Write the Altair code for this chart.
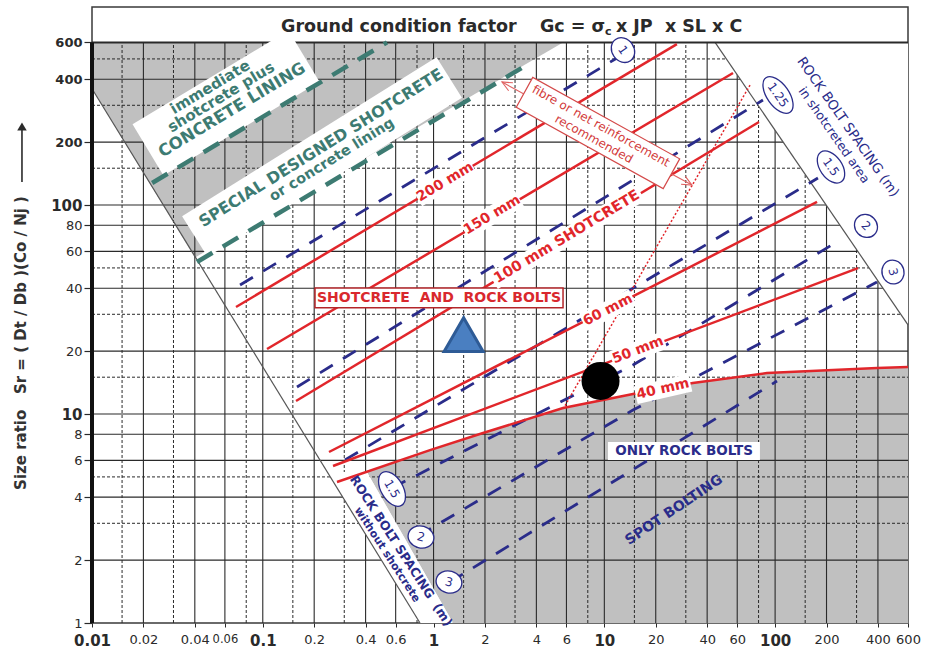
import altair as alt
import pandas as pd

# ---------------------------------------------------------------- styling
FONT = "DejaVu Sans"
INK = "#2a2a2a"
RED = "#e1262b"
NAVY = "#2a2c8a"
TEAL = "#3d7b72"
GRAY = "#c0c0c0"
SP = "\u00a0"   # non-collapsing space for wide gaps inside labels

# ---------------------------------------------------------------- scales
X_DOMAIN = [0.01, 600]
Y_DOMAIN = [1, 886]      # the strip above 600 carries the header row
Y_TOP = 600

XS = alt.Scale(type="log", domain=X_DOMAIN, nice=False)
YS = alt.Scale(type="log", domain=Y_DOMAIN, nice=False)

# ---------------------------------------------------------------- axes / grid
x_ticks = [0.01, 0.02, 0.04, 0.06, 0.1, 0.2, 0.4, 0.6, 1, 2, 4, 6, 10,
           20, 40, 60, 100, 200, 400, 600]
y_ticks = [1, 2, 4, 6, 8, 10, 20, 40, 60, 80, 100, 200, 400, 600]

grid_x_solid = [0.02, 0.04, 0.06, 0.1, 0.2, 0.4, 0.6, 1, 2, 4, 6, 10,
                20, 40, 60, 100, 200, 400]
grid_x_dashed = [0.015, 0.03, 0.08, 0.15, 0.3, 0.8, 1.5, 3, 8, 15, 30, 80, 150, 300]
grid_y_solid = [2, 4, 6, 8, 10, 20, 40, 60, 80, 100, 200, 400]
grid_y_dashed = [3, 5, 15, 30, 50, 150, 300, 500]

# ---------------------------------------------------------------- regions
# upper-left grey zone (special designed shotcrete / concrete lining)
gray_top_x = [0.01, 0.04, 5.73]
gray_top_lo = [360, 56, 600]

# lower-right grey zone (rock bolts only), topped by the 40 mm curve
gray_low_x = [0.407, 0.953, 1.30, 1.948, 5.73, 14.72, 33, 89.6, 395, 600]
gray_low_lo = [5.28, 1.56, 1, 1, 1, 1, 1, 1, 1, 1]
gray_low_hi = [5.28, 6.72, 7.30, 8.11, 10.68, 12.47, 14.07, 15.71, 16.6, 16.78]

# white strip carrying "ROCK BOLT SPACING without shotcrete"
band_y = [1, 5.28]
band_x_left = [0.833, 0.239]
band_x_right = [1.30, 0.407]

# boundary lines
left_edge_x = [0.01, 0.833]
left_edge_y = [360, 1]
right_edge_x = [44.5, 600]
right_edge_y = [600, 26.7]

# ---------------------------------------------------------------- support lines
concrete_lines = {
    "a": ([0.0225, 0.534], [127.4, 600]),
    "b": ([0.0412, 3.67], [53.4, 478]),
}
bolt_lines = {
    "1": ([0.0736, 11.86], [41.4, 505]),
    "1.25": ([0.1586, 84.9], [13.46, 318]),
    "1.5": ([0.303, 178.2], [6.03, 134.6]),
    "1.5-2": ([0.571, 14.72, 240], [4.43, 17.16, 68.0]),
    "2-3": ([0.811, 14.72, 395], [2.61, 10.45, 42.8]),
    "3": ([1.248, 102.6], [1.571, 14.38]),
}
shotcrete_lines = {
    "200": ([0.0697, 26.6], [32.5, 589]),
    "150": ([0.1059, 56.7], [20.46, 428]),
    "100": ([0.1565, 80.4], [11.54, 249.6]),
    "60": ([0.2442, 176], [6.58, 103.4]),
    "50": ([0.2578, 305.7], [5.64, 49.9]),
    "40": ([0.272, 0.953, 1.948, 5.73, 14.72, 33, 89.6, 395, 600],
           [4.73, 6.72, 8.11, 10.68, 12.47, 14.07, 15.71, 16.6, 16.78]),
}
fibre_limit_x = [71.3, 5.73]
fibre_limit_y = [375, 10.56]
fibre_arrow_x = [2.516, 32.6]
fibre_arrow_y = [387.8, 124.6]

# ---------------------------------------------------------------- labels
shotcrete_labels = ["200 mm", "150 mm", "100 mm SHOTCRETE", "60 mm", "50 mm", "40 mm"]
shotcrete_label_x = [1.167, 2.198, 6.04, 10.5, 15.74, 22.06]
shotcrete_label_y = [128.8, 89.6, 70.3, 31.45, 20.2, 13.17]
shotcrete_label_angle = [-31, -31, -31, -27, -21, -13]
shotcrete_label_w = [64, 64, 172, 56, 56, 56]

spacing_labels = ["1", "1.25", "1.5", "2", "3", "1.5", "2", "3"]
spacing_x = [12.86, 104, 212.4, 340.5, 490, 0.571, 0.844, 1.231]
spacing_y = [551, 336, 152, 79.4, 47.8, 4.38, 2.58, 1.571]
spacing_angle = [55, 55, 55, 45, 75, 60, 15, 15]
spacing_w = [26, 42, 36, 24, 24, 38, 26, 26]

# observed cases
case_triangle = (1.5, 24)
case_circle = (9.5, 14.4)

# ---------------------------------------------------------------- axes
BOLD_X = "indexof([0.01,0.1,1,10,100], datum.value) >= 0"
X_AXIS = alt.Axis(
    values=x_ticks, format="~g", domain=False, grid=False, tickSize=4, tickColor=INK,
    tickWidth=1, labelFont=FONT, labelColor=INK, labelPadding=6, labelOverlap=False,
    labelFlush=False,
    labelFontSize=alt.ExprRef(expr=f"{BOLD_X} ? 15 : (datum.value == 0.06 ? 11.5 : 13)"),
    labelFontWeight=alt.ExprRef(expr=f"{BOLD_X} ? 'bold' : 'normal'"),
    title=None)
Y_AXIS = alt.Axis(
    values=y_ticks, format="~g", domain=False, grid=False, tickSize=8, tickColor=INK,
    tickWidth=1.2, labelFont=FONT, labelColor=INK, labelPadding=2, labelOverlap=False,
    labelFlush=False,
    labelFontSize=alt.ExprRef(expr="datum.value == 10 || datum.value == 100 ? 15 : 13"),
    labelFontWeight=alt.ExprRef(
        expr="datum.value >= 200 || datum.value == 10 || datum.value == 100 ? 'bold' : 'normal'"),
    title=f"Size ratio{SP * 3}Sr = ( Dt / Db )(Co / Nj )", titleFont=FONT, titleFontSize=15,
    titleFontWeight="bold", titleColor="#333333", titleAngle=270, titleX=-72, titleY=335.5,
    titleAlign="center", titleBaseline="middle")


# ---------------------------------------------------------------- helpers
def xq(f="x"):
    return alt.X(f"{f}:Q", scale=XS, axis=X_AXIS)


def yq(f="y"):
    return alt.Y(f"{f}:Q", scale=YS, axis=Y_AXIS)


def one(x, y, **extra):
    d = {"x": [x], "y": [y]}
    d.update({k: [v] for k, v in extra.items()})
    return pd.DataFrame(d)


def line_layer(groups, **mark):
    rows = []
    for name, (xs, ys) in groups.items():
        for i, (a, b) in enumerate(zip(xs, ys)):
            rows.append({"id": name, "i": i, "x": a, "y": b})
    return alt.Chart(pd.DataFrame(rows)).mark_line(**mark).encode(
        x=xq(), y=yq(), detail="id:N", order="i:Q")


def vrules(xs, **mark):
    df = pd.DataFrame({"x": xs, "y": 1, "y2": Y_TOP})
    return alt.Chart(df).mark_rule(**mark).encode(x=xq(), y=yq(), y2="y2:Q")


def hrules(ys, **mark):
    df = pd.DataFrame({"y": ys, "x": X_DOMAIN[0], "x2": X_DOMAIN[1]})
    return alt.Chart(df).mark_rule(**mark).encode(y=yq(), x=xq(), x2="x2:Q")


def rect_path(w, h):
    r = h / w
    return f"M-1,{-r:.4f}L1,{-r:.4f}L1,{r:.4f}L-1,{r:.4f}Z", w * w


def ellipse_path(w, h):
    r = h / w
    return f"M-1,0A1,{r:.4f} 0 1,1 1,0A1,{r:.4f} 0 1,1 -1,0Z", w * w


def shape_layer(x, y, path_size, angle=0, fill="white", stroke=None, sw=0):
    path, size = path_size
    m = dict(shape=path, size=size, angle=angle % 360, filled=True,
             fill=fill, opacity=1, strokeWidth=sw)
    if stroke:
        m["stroke"] = stroke
    return alt.Chart(one(x, y)).mark_point(**m).encode(x=xq(), y=yq())


def box_layer(x0, x1, y0, y1, **mark):
    df = pd.DataFrame({"x": [x0], "x2": [x1], "y": [y0], "y2": [y1]})
    return alt.Chart(df).mark_rect(**mark).encode(x=xq(), x2="x2:Q", y=yq(), y2="y2:Q")


def text_layer(t, x, y, size, color, angle=0, weight="bold",
               align="center", baseline="middle"):
    return alt.Chart(one(x, y, t=t)).mark_text(
        font=FONT, fontSize=size, fontWeight=weight, color=color,
        angle=angle % 360, align=align, baseline=baseline,
    ).encode(x=xq(), y=yq(), text="t:N")


layers = []

# grey zones
layers.append(alt.Chart(pd.DataFrame({"x": gray_top_x, "y": gray_top_lo, "y2": Y_TOP}))
              .mark_area(color=GRAY, opacity=1).encode(x=xq(), y=yq(), y2="y2:Q"))
layers.append(alt.Chart(pd.DataFrame({"x": gray_low_x, "y": gray_low_lo, "y2": gray_low_hi}))
              .mark_area(color=GRAY, opacity=1).encode(x=xq(), y=yq(), y2="y2:Q"))

# grid
layers.append(vrules(grid_x_solid, color=INK, strokeWidth=1.1))
layers.append(vrules(grid_x_dashed, color=INK, strokeWidth=1, strokeDash=[3, 2]))
layers.append(hrules(grid_y_solid, color=INK, strokeWidth=1.1))
layers.append(hrules(grid_y_dashed, color=INK, strokeWidth=1, strokeDash=[3, 2]))

# white zones without grid
layers.append(alt.Chart(pd.DataFrame({"y": band_y, "x": band_x_left, "x2": band_x_right}))
              .mark_area(color="white", opacity=1, orient="horizontal")
              .encode(y=yq(), x=xq(), x2="x2:Q"))
layers.append(alt.Chart(pd.DataFrame({"x": right_edge_x, "y": right_edge_y, "y2": Y_TOP}))
              .mark_area(color="white", opacity=1).encode(x=xq(), y=yq(), y2="y2:Q"))

# boundary lines
layers.append(line_layer({"l": (left_edge_x, left_edge_y)}, color="#555555", strokeWidth=1.2))
layers.append(line_layer({"r": (right_edge_x, right_edge_y)}, color="#555555", strokeWidth=1.2))
layers.append(hrules([Y_TOP], color=INK, strokeWidth=2))

# white panels in the concrete-lining zone
layers.append(shape_layer(0.0609, 307.6, rect_path(182, 60), angle=-31))
layers.append(shape_layer(0.2223, 169.7, rect_path(300, 48), angle=-32))

# support lines
layers.append(line_layer(concrete_lines, color=TEAL, strokeWidth=4.5, strokeDash=[18, 12]))
layers.append(line_layer(bolt_lines, color=NAVY, strokeWidth=2.8, strokeDash=[15, 12]))
layers.append(line_layer(shotcrete_lines, color=RED, strokeWidth=2.5))
layers.append(line_layer({"f": (fibre_limit_x, fibre_limit_y)}, color=RED,
                         strokeWidth=1.5, strokeDash=[2, 2]))
layers.append(line_layer({"a": (fibre_arrow_x, fibre_arrow_y)}, color="#e06060", strokeWidth=1.1))
chevron = ("M-0.45,1L0,0L0.45,1", 400)
for ax, ay, ang in [(fibre_arrow_x[0], fibre_arrow_y[0], 298.5),
                    (fibre_arrow_x[1], fibre_arrow_y[1], 118.5)]:
    layers.append(alt.Chart(one(ax, ay)).mark_point(
        shape=chevron[0], size=chevron[1], angle=ang, filled=False,
        color="#e06060", strokeWidth=1.1, opacity=1).encode(x=xq(), y=yq()))

# label boxes sitting over the lines
layers.append(box_layer(10.5, 81.5, 6.03, 7.35, color="white"))
layers.append(box_layer(0.2022, 5.73, 32.2, 40.1, fill="white", stroke="#b3262a", strokeWidth=1.5))
layers.append(shape_layer(9.18, 221, rect_path(168, 34), angle=29, stroke="#d44a4a", sw=1.2))

# shotcrete thickness labels
for t, x, y, a, w in zip(shotcrete_labels, shotcrete_label_x, shotcrete_label_y,
                         shotcrete_label_angle, shotcrete_label_w):
    layers.append(shape_layer(x, y, rect_path(w, 18), angle=a))
    layers.append(text_layer(t, x, y, 14.5 if "SHOT" in t else 14, RED, angle=a))

# bolt spacing markers
for t, x, y, a, w in zip(spacing_labels, spacing_x, spacing_y, spacing_angle, spacing_w):
    layers.append(shape_layer(x, y, ellipse_path(w, 22), angle=a, stroke=NAVY, sw=1.3))
    layers.append(text_layer(t, x, y, 12, NAVY, angle=a, weight="normal"))

# zone texts
layers += [
    text_layer("immediate", 0.0491, 367, 15, TEAL, angle=-31),
    text_layer("shotcrete plus", 0.0569, 328.6, 15, TEAL, angle=-31),
    text_layer("CONCRETE LINING", 0.066, 284.7, 16.5, TEAL, angle=-31),
    text_layer("SPECIAL DESIGNED SHOTCRETE", 0.2193, 187.4, 16, TEAL, angle=-32),
    text_layer("or concrete lining", 0.2543, 164.2, 14.5, TEAL, angle=-32),
    text_layer(f"SHOTCRETE{SP}{SP}AND{SP}{SP}ROCK BOLTS", 1.076, 35.9, 14, "#d9282d"),
    text_layer("fibre or net reinforcement", 9.56, 238.8, 12, "#d23a3a", angle=29, weight="normal"),
    text_layer("recommended", 8.70, 207, 12, "#d23a3a", angle=29, weight="normal"),
    text_layer("ONLY ROCK BOLTS", 29.3, 6.65, 13.5, NAVY),
    text_layer("SPOT BOLTING", 25.6, 3.47, 14, NAVY, angle=-34),
    text_layer(f"ROCK BOLT SPACING{SP}{SP}(m)", 0.645, 2.21, 12.5, NAVY, angle=57),
    text_layer("without shotcrete", 0.534, 2.12, 11, NAVY, angle=57),
    text_layer("ROCK BOLT SPACING (m)", 267, 236, 13.5, NAVY, angle=55, weight="normal"),
    text_layer("in shotcreted area", 221, 216, 12.5, NAVY, angle=55, weight="normal"),
]

# observed cases
layers.append(alt.Chart(one(*case_triangle)).mark_point(
    shape="triangle-up", size=1521, filled=True, fill="#4a7fc1", stroke="#2e5b96",
    strokeWidth=3, opacity=1).encode(x=xq(), y=yq()))
layers.append(alt.Chart(one(*case_circle)).mark_point(
    shape="circle", size=1444, filled=True, color="black", opacity=1).encode(x=xq(), y=yq()))

# header row
layers += [
    text_layer("Ground condition factor", 0.1279, 672.8, 17.5, INK, align="left", baseline="alphabetic"),
    text_layer("Gc = σ", 4.20, 672.8, 17.5, INK, align="left", baseline="alphabetic"),
    text_layer("c", 10.09, 650.8, 11, INK, align="left", baseline="alphabetic"),
    text_layer(f"x JP{SP}{SP}x SL x C", 11.7, 672.8, 17.5, INK, align="left", baseline="alphabetic"),
]

# arrow beside the y title
arrow_x = 0.00389
layers.append(line_layer({"ya": ([arrow_x, arrow_x], [128.8, 228.5])}, color=INK, strokeWidth=1.6))
layers.append(alt.Chart(one(arrow_x, 237.5)).mark_point(
    shape="triangle-up", size=90, filled=True, color=INK, opacity=1).encode(x=xq(), y=yq()))

# heavy left frame line
layers.append(alt.Chart(pd.DataFrame({"x": [0.01], "y": [1], "y2": [Y_TOP]}))
              .mark_rule(color="#111111", strokeWidth=4)
              .encode(x=xq(), y=yq(), y2="y2:Q"))

chart = (
    alt.layer(*layers)
    .properties(width=816, height=616,
                autosize=alt.AutoSizeParams(type="none"),
                padding={"left": 92, "top": 7, "right": 17, "bottom": 28},
                background="white")
    .configure_view(stroke="#3a3a3a", strokeWidth=1.5)
)

chart.save("out.html", embed_options={"renderer": "svg", "actions": False})
